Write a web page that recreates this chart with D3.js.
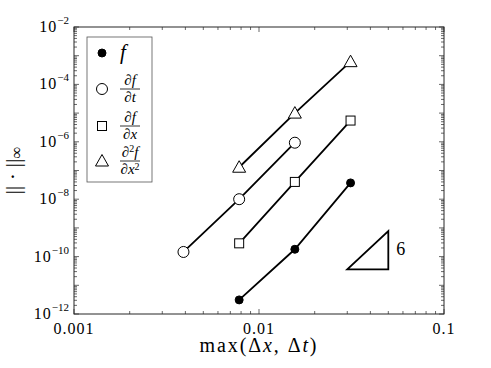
<!DOCTYPE html>
<html>
<head>
<meta charset="utf-8">
<script src="https://cdn.jsdelivr.net/npm/d3@7"></script>
<style>
  body { margin: 0; background: #fff; }
</style>
</head>
<body>
<div id="chart"></div>
<script>
// grid spacing used in the convergence study
const h = [1 / 256, 1 / 128, 1 / 64, 1 / 32];

// errors
const errF = [null, 3.1e-12, 1.8e-10, 3.7e-8];
const errFt = [1.45e-10, 1.0e-8, 9.3e-7, null];
const errFx = [null, 2.9e-10, 4.0e-8, 5.5e-6];
const errFxx = [null, 1.3e-7, 1.0e-5, 6.2e-4];

const xTickLabels = ["0.001", "0.01", "0.1"];
const yTickExp = [-2, -4, -6, -8, -10, -12];

// slope-6 reference triangle
const triX = [0.03, 0.05];
const triY0 = 3.6e-11;
const slope = 6;

const width = 491, height = 368;
const margin = { top: 27, right: 47, bottom: 54, left: 74 };
const serif = "'Liberation Serif'";

const svg = d3.select("#chart").append("svg")
    .attr("width", width)
    .attr("height", height);

// every text gets the serif face directly
function addText(parent) {
    return parent.append("text").style("font-family", serif).attr("fill", "#000");
}

const x = d3.scaleLog()
    .domain([0.001, 0.1])
    .range([margin.left, width - margin.right]);

const y = d3.scaleLog()
    .domain([1e-12, 1e-2])
    .range([height - margin.bottom, margin.top]);

const axisColor = "#262626";

// ticks (inside, on all four sides)
function logTicks(lo, hi) {
    const major = [], minor = [];
    for (let e = lo; e <= hi; e++) {
        major.push(Math.pow(10, e));
        if (e < hi) for (let m = 2; m <= 9; m++) minor.push(m * Math.pow(10, e));
    }
    return { major, minor };
}

const xt = logTicks(-3, -1);
const yt = logTicks(-12, -2);
const ticks = svg.append("g").attr("stroke", axisColor).attr("stroke-width", 0.7);

[[xt.major, 5], [xt.minor, 3]].forEach(([vals, len]) => {
    vals.forEach(v => {
        ticks.append("line").attr("x1", x(v)).attr("x2", x(v))
            .attr("y1", y.range()[0]).attr("y2", y.range()[0] - len);
        ticks.append("line").attr("x1", x(v)).attr("x2", x(v))
            .attr("y1", y.range()[1]).attr("y2", y.range()[1] + len);
    });
});
[[yt.major, 5], [yt.minor, 3]].forEach(([vals, len]) => {
    vals.forEach(v => {
        ticks.append("line").attr("y1", y(v)).attr("y2", y(v))
            .attr("x1", x.range()[0]).attr("x2", x.range()[0] + len);
        ticks.append("line").attr("y1", y(v)).attr("y2", y(v))
            .attr("x1", x.range()[1]).attr("x2", x.range()[1] - len);
    });
});

// frame
svg.append("rect")
    .attr("x", x.range()[0]).attr("y", y.range()[1])
    .attr("width", x.range()[1] - x.range()[0])
    .attr("height", y.range()[0] - y.range()[1])
    .attr("fill", "none").attr("stroke", axisColor).attr("stroke-width", 1);

// tick labels
xTickLabels.forEach(t => {
    addText(svg)
        .attr("x", x(+t)).attr("y", y.range()[0] + 20)
        .attr("text-anchor", "middle")
        .attr("font-size", 16)
        .attr("letter-spacing", 1)
        .text(t);
});
yTickExp.forEach(e => {
    const t = addText(svg)
        .attr("x", x.range()[0] - 5).attr("y", y(Math.pow(10, e)) + 5)
        .attr("text-anchor", "end")
        .attr("font-size", 16);
    t.append("tspan").attr("letter-spacing", 1).text("10");
    t.append("tspan").attr("dy", -8).attr("font-size", 11).text("\u2212" + Math.abs(e));
});

// axis labels
const xl = addText(svg)
    .attr("x", (x.range()[0] + x.range()[1]) / 2)
    .attr("y", 352)
    .attr("text-anchor", "middle")
    .attr("font-size", 20)
    .attr("letter-spacing", 1.9);
xl.append("tspan").text("max(\u0394");
xl.append("tspan").attr("font-style", "italic").text("x");
xl.append("tspan").text(", \u0394");
xl.append("tspan").attr("font-style", "italic").text("t");
xl.append("tspan").text(")");

const yl = addText(svg)
    .attr("transform", `translate(20, ${(y.range()[0] + y.range()[1]) / 2}) rotate(-90)`)
    .attr("text-anchor", "middle")
    .attr("font-size", 22);
yl.append("tspan").text("|| \u00b7 ||");
yl.append("tspan").attr("font-size", 17).attr("dy", 2).text("\u221e");

// series
const series = [
    { vals: errF, shape: "dot" },
    { vals: errFt, shape: "circle" },
    { vals: errFx, shape: "square" },
    { vals: errFxx, shape: "triangle" }
];

const line = d3.line()
    .defined(d => d.v != null)
    .x(d => x(d.h))
    .y(d => y(d.v));

function drawMarker(g, shape, cx, cy) {
    if (shape === "dot") {
        g.append("circle").attr("cx", cx).attr("cy", cy).attr("r", 4)
            .attr("fill", "#000").attr("stroke", "#000");
    } else if (shape === "circle") {
        g.append("circle").attr("cx", cx).attr("cy", cy).attr("r", 5.5)
            .attr("fill", "#fff").attr("stroke", "#000").attr("stroke-width", 1);
    } else if (shape === "square") {
        g.append("rect").attr("x", cx - 4.5).attr("y", cy - 4.5)
            .attr("width", 9).attr("height", 9)
            .attr("fill", "#fff").attr("stroke", "#000").attr("stroke-width", 1);
    } else {
        g.append("path")
            .attr("d", `M${cx},${cy - 6.5}L${cx + 6.5},${cy + 5}L${cx - 6.5},${cy + 5}Z`)
            .attr("fill", "#fff").attr("stroke", "#000").attr("stroke-width", 1);
    }
}

series.forEach(s => {
    const pts = h.map((hv, i) => ({ h: hv, v: s.vals[i] }));
    svg.append("path")
        .datum(pts)
        .attr("d", line)
        .attr("fill", "none")
        .attr("stroke", "#000")
        .attr("stroke-width", 1.8);
    const g = svg.append("g");
    pts.filter(p => p.v != null).forEach(p => drawMarker(g, s.shape, x(p.h), y(p.v)));
});

// slope triangle
const triY1 = triY0 * Math.pow(triX[1] / triX[0], slope);
svg.append("path")
    .attr("d", `M${x(triX[0])},${y(triY0)}L${x(triX[1])},${y(triY0)}L${x(triX[1])},${y(triY1)}Z`)
    .attr("fill", "none").attr("stroke", "#000").attr("stroke-width", 1.8);
addText(svg)
    .attr("x", x(triX[1]) + 8)
    .attr("y", (y(triY0) + y(triY1)) / 2 + 5)
    .attr("font-size", 18)
    .text(String(slope));

// legend
const lg = svg.append("g").attr("transform", "translate(87,37)");
lg.append("rect").attr("width", 65).attr("height", 145)
    .attr("fill", "#fff").attr("stroke", "#555").attr("stroke-width", 0.8);

const legendY = [16, 52, 89, 124];
series.forEach((s, i) => drawMarker(lg, s.shape, 15, legendY[i]));

addText(lg).attr("x", 33).attr("y", legendY[0] + 6)
    .attr("font-size", 21).attr("font-style", "italic").text("f");

function frac(cy, num, den) {
    const cx = 43;
    const n = addText(lg).attr("x", cx).attr("y", cy - 4)
        .attr("text-anchor", "middle").attr("font-size", 15);
    num.forEach(p => n.append("tspan").attr("font-style", p.it ? "italic" : null)
        .attr("font-size", p.sup ? 10 : null).attr("dy", p.dy || null).text(p.t));
    lg.append("line").attr("x1", cx - 10).attr("x2", cx + 10)
        .attr("y1", cy).attr("y2", cy).attr("stroke", "#000").attr("stroke-width", 0.8);
    const d = addText(lg).attr("x", cx).attr("y", cy + 13)
        .attr("text-anchor", "middle").attr("font-size", 15);
    den.forEach(p => d.append("tspan").attr("font-style", p.it ? "italic" : null)
        .attr("font-size", p.sup ? 10 : null).attr("dy", p.dy || null).text(p.t));
}
frac(legendY[1], [{ t: "\u2202" }, { t: "f", it: true }], [{ t: "\u2202" }, { t: "t", it: true }]);
frac(legendY[2], [{ t: "\u2202" }, { t: "f", it: true }], [{ t: "\u2202" }, { t: "x", it: true }]);
frac(legendY[3], [{ t: "\u2202" }, { t: "2", sup: true, dy: -5 }, { t: "f", it: true, dy: 5 }],
    [{ t: "\u2202" }, { t: "x", it: true }, { t: "2", sup: true, dy: -4 }]);
</script>
</body>
</html>
